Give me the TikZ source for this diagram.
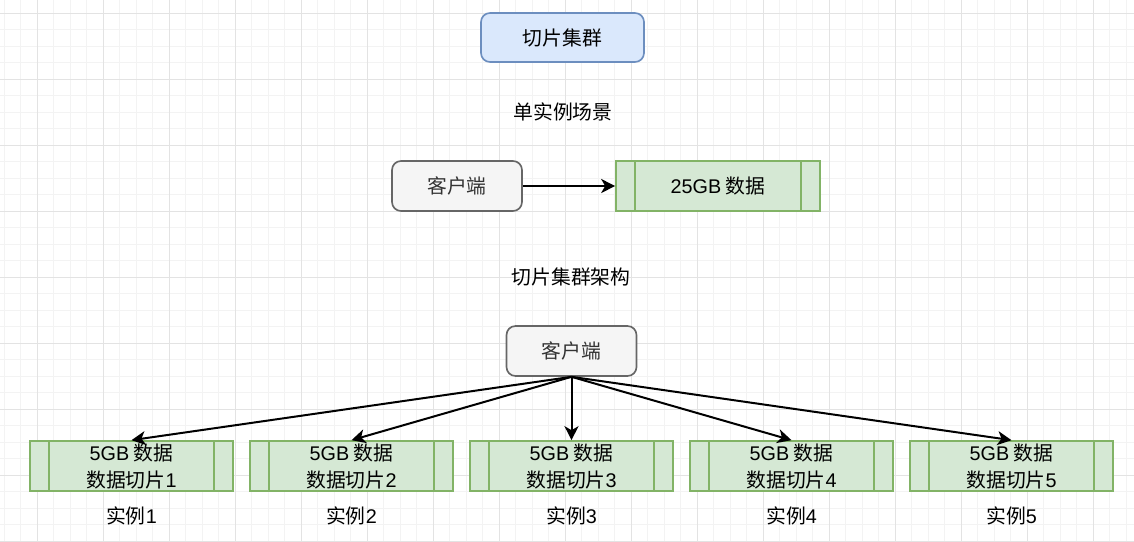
\documentclass[tikz,border=0pt]{standalone}
\usepackage{fontspec}
\setmainfont{Noto Sans CJK SC}
\newfontfamily\lat{Liberation Sans}
\usetikzlibrary{arrows.meta}
\definecolor{blueF}{HTML}{DAE8FC}
\definecolor{blueS}{HTML}{6C8EBF}
\definecolor{greyF}{HTML}{F5F5F5}
\definecolor{greyS}{HTML}{666666}
\definecolor{greyT}{HTML}{333333}
\definecolor{greenF}{HTML}{D5E8D4}
\definecolor{greenS}{HTML}{82B366}
\definecolor{gridminor}{HTML}{F3F3F3}
\definecolor{gridmajor}{HTML}{E3E3E3}
\tikzset{
  every node/.style={font=\fontsize{19.8}{27}\selectfont, inner sep=0pt},
  titlebox/.style={draw=blueS, fill=blueF, line width=1.65pt, rounded corners=9pt, minimum width=163pt, minimum height=49pt},
  clientbox/.style={draw=greyS, fill=greyF, text=greyT, line width=1.65pt, rounded corners=9pt, minimum width=130pt, minimum height=50pt},
  procbox/.style={draw=greenS, fill=greenF, line width=1.65pt, minimum width=203pt, minimum height=50pt, align=center},
  procline/.style={draw=greenS, line width=1.65pt},
  caption/.style={text=black},
  conn/.style={line width=2pt, -{Stealth[length=14pt, width=14pt, inset=4pt]}},
  gminor/.style={draw=gridminor, line width=1pt},
  gmajor/.style={draw=gridmajor, line width=1pt},
}
\begin{document}
\begin{tikzpicture}[x=1pt, y=-1pt]
\useasboundingbox (0,0) rectangle (1134,541);
\fill[white] (0,0) rectangle (1134,541);
% grid
\foreach \i in {0,...,69} {
  \pgfmathsetmacro{\xx}{4.3+16.5*\i}
  \draw[gminor] (\xx,0) -- (\xx,541);
}
\foreach \j in {-1,...,32} {
  \pgfmathsetmacro{\yy}{13.3+16.5*\j}
  \draw[gminor] (0,\yy) -- (1134,\yy);
}
\foreach \i in {0,...,17} {
  \pgfmathsetmacro{\xx}{37.3+66*\i}
  \draw[gmajor] (\xx,0) -- (\xx,541);
}
\foreach \j in {0,...,8} {
  \pgfmathsetmacro{\yy}{13.3+66*\j}
  \draw[gmajor] (0,\yy) -- (1134,\yy);
}
% top
\node[titlebox] (title) at (562.5,37.5) {切片集群};
\node[caption] (lbl1) at (563,112) {单实例场景};
\node[clientbox] (c1) at (457,186) {客户端};
\node[procbox, minimum width=204pt] (d) at (718,186) {{\lat 25GB} 数据};
\draw[procline] ([xshift=20pt]d.north west) -- ([xshift=20pt]d.south west);
\draw[procline] ([xshift=-20pt]d.north east) -- ([xshift=-20pt]d.south east);
\draw[conn] (c1) -- (d);
% cluster
\node[caption] (lbl2) at (571,277) {切片集群架构};
\node[clientbox] (c2) at (571.5,351) {客户端};
\foreach \k in {1,...,5} {
  \pgfmathsetmacro{\cx}{131.5+220*(\k-1)}
  \node[procbox] (s\k) at (\cx,466) {{\lat 5GB} 数据\\数据切片{\lat\k}};
  \draw[procline] ([xshift=20pt]s\k.north west) -- ([xshift=20pt]s\k.south west);
  \draw[procline] ([xshift=-20pt]s\k.north east) -- ([xshift=-20pt]s\k.south east);
  \node[caption] (i\k) at (\cx,516) {实例{\lat\k}};
  \draw[conn] (c2.south) -- (s\k.north);
}
\end{tikzpicture}
\end{document}
